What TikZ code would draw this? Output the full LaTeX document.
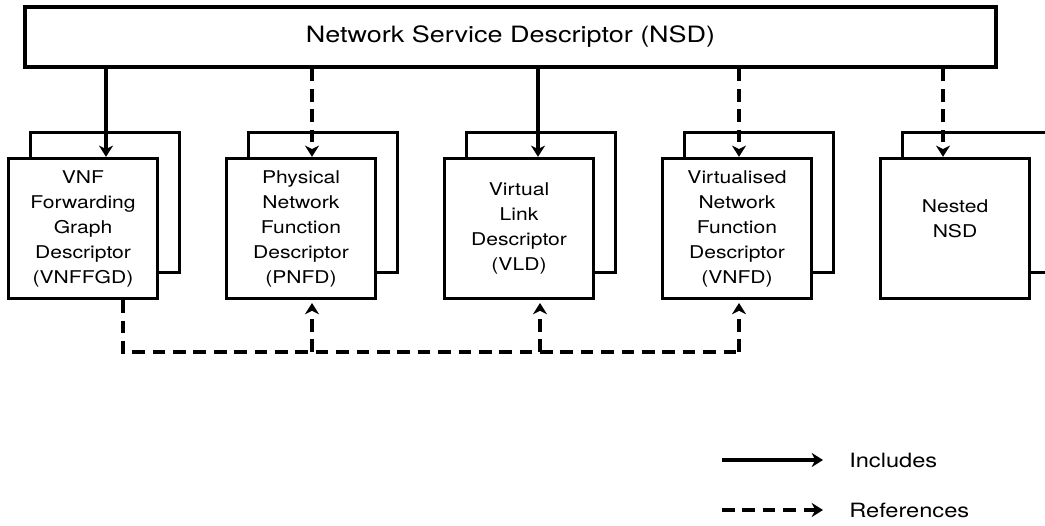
\documentclass[tikz,border=0pt]{standalone}
\usepackage{fontspec}
\setmainfont{TeX Gyre Heros}[FakeStretch=1.2]
\usetikzlibrary{positioning,arrows.meta,backgrounds}

\tikzset{
  desc/.style={draw, line width=2.4pt, fill=white, minimum width=3.725cm,
    minimum height=3.5cm, align=center, font=\fontsize{12.5}{17.8}\selectfont},
  descback/.style={draw, line width=1.9pt, minimum width=3.725cm, minimum height=3.5cm},
  incl/.style={line width=2.4pt, -{Stealth[length=8pt,width=10pt,inset=2.5pt]}},
  refs/.style={incl, dash pattern=on 9pt off 5.5pt},
  legtext/.style={anchor=west, inner sep=0pt, font=\fontsize{14}{16}\selectfont}
}

\begin{document}
\begin{tikzpicture}[node distance=5.45cm, on grid]
\useasboundingbox (0,0) rectangle (26.125,-13.125);

\node[draw, line width=2.4pt, minimum width=24.275cm, minimum height=1.5cm,
  font=\fontsize{16}{19}\selectfont] (nsd) at (12.7625,-0.925) {Network Service Descriptor (NSD)};

\node[desc] (vnffgd) at (2.075,-5.7125) {VNF\\Forwarding\\Graph\\Descriptor\\(VNFFGD)};
\node[desc] (pnfd) [right=of vnffgd] {Physical\\Network\\Function\\Descriptor\\(PNFD)};
\node[desc] (vld) [right=of pnfd] {Virtual\\Link\\Descriptor\\(VLD)};
\node[desc] (vnfd) [right=of vld] {Virtualised\\Network\\Function\\Descriptor\\(VNFD)};
\node[desc] (nested) [right=of vnfd] {Nested\\NSD\\[-4pt]\mbox{}};

% the copies stacked behind each descriptor
\begin{scope}[on background layer]
\foreach \d in {vnffgd,pnfd,vld,vnfd,nested}
  \node[descback] (\d back) at ([shift={(0.55,0.65)}]\d.center) {};
\end{scope}

% NSD -> descriptors
\foreach \d/\dx/\s in {vnffgd/0.575/incl, pnfd/0.275/refs, vld/0.475/incl, vnfd/0.05/refs, nested/-0.3/refs}
{
  \coordinate (\d top) at ([xshift=\dx cm]\d.north);
  \draw[\s] (nsd.south -| \d top) -- (\d top);
}

% VNFFGD references
\coordinate (bus) at (0,-8.8);
\coordinate (pnfdin) at ([xshift=0.275cm]pnfd.south);
\coordinate (vldin) at ([xshift=0.525cm]vld.south);
\coordinate (vnfdin) at ([xshift=0.05cm]vnfd.south);
\draw[refs, -] ([xshift=1cm]vnffgd.south) |- (bus -| vnfdin);
\foreach \d in {pnfdin,vldin,vnfdin}
  \draw[refs, shorten >=2pt] (bus -| \d) -- (\d);

% legend
\node[legtext] (inctext) at (21.225,-11.5) {Includes};
\node[legtext] (reftext) at (21.225,-12.75) {References};
\coordinate (incstart) at (18.05,-11.5);
\coordinate (refstart) at (18.05,-12.75);
\draw[incl] (incstart) -- ([xshift=-0.65cm]inctext.west);
\draw[refs] (refstart) -- ([xshift=-0.65cm]reftext.west);
\end{tikzpicture}
\end{document}
